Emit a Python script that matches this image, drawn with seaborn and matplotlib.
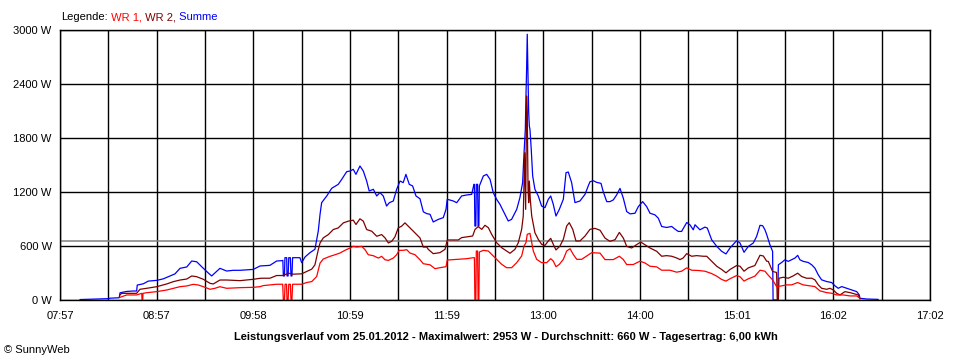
import matplotlib
matplotlib.use("Agg")
import matplotlib.pyplot as plt
import seaborn as sns
import pandas as pd

# ---------------- data (time in minutes since midnight, power in W) ----------------
t_sum = [489.5, 507.3, 508.3, 514.1, 514.6, 518.8, 522.9, 525.0, 525.4, 529.2, 532.3, 537.6,
         541.7, 545.9, 549.0, 552.2, 556.4, 559.5, 562.6, 566.8, 569.9, 572.0, 575.2, 577.2,
         581.4, 585.6, 589.8, 594.0, 598.1, 602.3, 608.5, 612.7, 615.9, 616.6, 616.9, 617.6,
         617.9, 619.0, 619.2, 619.9, 620.3, 621.3, 621.7, 622.3, 622.7, 627.3, 628.4, 630.5,
         633.6, 636.7, 638.8, 639.9, 640.9, 644.1, 647.2, 651.3, 653.5, 656.6, 658.7, 660.7,
         662.4, 664.9, 667.0, 669.1, 670.7, 673.3, 675.4, 677.4, 679.5, 681.6, 683.3, 685.8,
         687.9, 690.0, 692.0, 693.7, 695.8, 697.9, 700.0, 702.5, 704.6, 706.7, 708.8, 710.8,
         714.0, 717.1, 718.8, 719.6, 723.4, 725.5, 728.6, 731.8, 734.9, 736.3, 736.6, 736.9,
         737.5, 737.8, 738.6, 738.9, 739.4, 739.7, 742.2, 744.3, 746.4, 748.4, 750.5, 752.6,
         755.7, 757.8, 759.9, 763.1, 765.1, 766.8, 767.7, 768.5, 768.9, 769.3, 769.7, 770.2,
         770.6, 771.0, 771.4, 772.2, 773.1, 774.5, 776.6, 778.7, 780.8, 782.9, 784.4, 786.0,
         787.7, 789.8, 792.3, 794.0, 795.4, 797.5, 799.6, 802.7, 805.9, 807.9, 809.0, 811.1,
         813.2, 815.9, 817.3, 819.5, 821.5, 823.6, 825.7, 827.8, 829.9, 832.0, 834.1, 837.2,
         839.3, 842.0, 844.5, 846.6, 849.7, 851.8, 853.9, 857.0, 860.2, 862.2, 864.3, 866.4,
         869.6, 871.6, 873.7, 874.8, 877.9, 881.0, 882.5, 885.2, 888.4, 891.5, 894.2, 896.7,
         900.9, 903.0, 905.5, 908.2, 911.3, 913.4, 915.5, 917.2, 918.6, 919.7, 920.7, 921.7,
         923.4, 923.7, 926.6, 927.0, 929.1, 931.1, 933.2, 935.3, 937.4, 939.1, 940.5, 942.6,
         945.7, 947.9, 949.9, 952.0, 954.1, 957.3, 960.4, 962.5, 964.5, 966.7, 969.8, 972.9,
         976.1, 977.7, 978.1, 982.3, 989.6]
summe = [5, 15, 20, 25, 80, 95, 100, 100, 166, 180, 210, 218,
         235, 267, 290, 352, 367, 433, 425, 352, 300, 267, 320, 352,
         322, 330, 330, 335, 340, 378, 385, 433, 437, 440, 267, 267,
         470, 470, 267, 267, 470, 470, 267, 267, 470, 470, 414, 478,
         526, 563, 767, 952, 1081, 1156, 1241, 1285, 1341, 1426, 1433, 1452,
         1396, 1489, 1433, 1322, 1211, 1230, 1156, 1193, 1156, 1044, 1081, 1100,
         1230, 1322, 1304, 1396, 1285, 1267, 1156, 1125, 980, 960, 952, 867,
         896, 915, 1007, 1119, 1100, 1081, 1156, 1167, 1174, 1285, 1285, 822,
         822, 1285, 1285, 822, 822, 1267, 1378, 1396, 1341, 1193, 1119, 1063,
         952, 878, 896, 1007, 1137, 1304, 1637, 1896, 2267, 2563, 2953, 2452,
         2082, 1933, 1896, 1674, 1378, 1230, 1156, 1044, 1026, 1119, 1156, 1063,
         933, 1007, 1119, 1415, 1422, 1304, 1082, 1100, 1174, 1267, 1314, 1325,
         1307, 1296, 1204, 1093, 1093, 1112, 1167, 1240, 1130, 983, 957, 964,
         1038, 1093, 1038, 964, 946, 909, 817, 806, 817, 788, 762, 762,
         861, 836, 780, 836, 780, 810, 799, 670, 596, 541, 512, 578,
         659, 633, 530, 596, 633, 707, 830, 825, 780, 727, 670, 615,
         540, 0, 0, 391, 417, 447, 429, 447, 466, 496, 447, 429,
         417, 391, 354, 280, 224, 205, 194, 157, 130, 149, 130, 112,
         93, 56, 19, 11, 7]

t_wr2 = [514.6, 515.6, 525.0, 527.1, 531.3, 537.6, 543.8, 548.0, 552.2, 556.4, 559.5, 562.6,
         566.8, 571.0, 573.0, 577.2, 581.4, 589.8, 598.1, 602.3, 604.3, 608.5, 612.7, 616.9,
         620.0, 623.1, 628.4, 631.5, 634.7, 636.7, 638.8, 639.9, 641.9, 645.1, 648.2, 651.3,
         654.5, 657.6, 660.7, 662.4, 664.9, 667.0, 669.1, 672.3, 675.4, 678.5, 680.6, 682.7,
         684.8, 686.8, 688.9, 691.0, 693.1, 695.2, 698.3, 702.5, 704.6, 706.7, 707.7, 710.8,
         715.0, 718.2, 719.6, 726.5, 728.6, 735.5, 737.0, 739.0, 741.2, 743.2, 745.3, 747.4,
         750.5, 753.7, 756.8, 758.9, 762.0, 764.1, 766.2, 767.2, 768.1, 768.7, 769.3, 769.7,
         770.2, 770.6, 771.0, 771.6, 772.5, 774.5, 776.6, 778.7, 780.8, 782.9, 784.4, 786.0,
         787.7, 790.2, 792.3, 794.4, 796.0, 798.2, 800.2, 802.7, 805.9, 809.0, 812.1, 815.3,
         818.4, 821.5, 824.7, 827.4, 829.9, 832.0, 835.1, 838.2, 840.8, 843.4, 846.6, 850.8,
         853.9, 857.0, 860.2, 863.3, 865.4, 867.4, 869.6, 872.7, 875.8, 880.0, 882.1, 885.2,
         888.4, 891.5, 894.2, 896.7, 900.9, 903.0, 905.5, 908.2, 912.3, 915.5, 917.6, 919.7,
         920.7, 923.4, 925.9, 926.3, 927.0, 927.4, 930.1, 933.2, 936.3, 939.1, 941.6, 944.7,
         947.9, 949.9, 952.0, 954.1, 957.3, 959.3, 961.4, 963.5, 965.6, 968.7, 971.9, 975.0,
         977.1, 978.1]
wr2 = [56, 74, 74, 119, 130, 148, 178, 204, 222, 233, 267, 259,
       230, 185, 178, 222, 222, 215, 230, 241, 242, 242, 272, 272,
       298, 287, 291, 317, 343, 391, 559, 634, 690, 727, 783, 801,
       857, 876, 887, 839, 902, 876, 783, 764, 708, 727, 690, 634,
       652, 701, 801, 820, 857, 820, 764, 690, 588, 589, 563, 515,
       526, 563, 667, 667, 693, 711, 785, 815, 785, 830, 804, 730,
       637, 581, 544, 519, 563, 637, 785, 933, 1637, 1007, 2267, 2082,
       1230, 1081, 1322, 1119, 933, 748, 674, 619, 607, 656, 685, 619,
       556, 600, 674, 822, 859, 785, 656, 656, 711, 785, 796, 775,
       688, 652, 670, 751, 688, 596, 578, 615, 644, 615, 578, 541,
       486, 493, 486, 467, 449, 467, 515, 486, 493, 486, 486, 431,
       375, 339, 302, 339, 383, 375, 320, 357, 383, 497, 489, 431,
       429, 317, 306, 0, 0, 242, 253, 242, 268, 298, 261, 242,
       242, 224, 168, 130, 119, 130, 112, 75, 56, 93, 82, 67,
       56, 11]

t_wr1 = [514.6, 518.8, 525.0, 528.2, 528.4, 528.8, 529.0, 531.3, 537.6, 543.8, 548.0, 552.2,
         556.4, 560.5, 563.6, 566.8, 571.0, 574.1, 577.2, 581.4, 589.8, 598.1, 602.3, 604.3,
         608.5, 612.7, 616.5, 616.9, 617.6, 618.0, 618.9, 619.2, 619.9, 620.3, 621.3, 621.7,
         622.3, 622.7, 628.4, 631.5, 634.7, 637.8, 639.9, 641.9, 646.1, 649.3, 652.4, 655.5,
         658.7, 660.7, 662.9, 666.0, 668.1, 670.1, 673.3, 676.4, 678.5, 680.6, 682.7, 685.8,
         687.9, 689.5, 692.0, 694.2, 696.2, 699.4, 702.5, 704.6, 708.8, 711.9, 715.0, 718.8,
         719.6, 726.5, 731.8, 735.9, 736.6, 736.9, 737.5, 737.8, 738.6, 738.9, 739.4, 739.7,
         742.2, 745.3, 747.4, 750.5, 753.7, 756.8, 759.9, 763.1, 766.2, 767.7, 768.9, 769.7,
         771.4, 772.5, 773.5, 775.6, 778.7, 781.9, 784.4, 786.0, 787.7, 789.8, 792.3, 794.4,
         796.5, 798.5, 800.7, 803.8, 806.9, 810.1, 815.3, 818.4, 823.6, 827.4, 829.9, 832.0,
         836.1, 840.3, 843.4, 846.6, 850.8, 853.9, 859.1, 863.3, 866.4, 869.6, 872.7, 876.8,
         881.0, 885.2, 888.4, 891.5, 894.2, 896.7, 900.9, 903.0, 905.5, 908.2, 912.3, 915.5,
         918.6, 920.7, 923.4, 925.9, 929.1, 932.2, 935.3, 939.1, 942.6, 946.8, 949.9, 953.1,
         957.3, 960.4, 963.5, 967.7, 971.9, 976.1, 978.1]
wr1 = [30, 56, 56, 74, 0, 0, 74, 81, 93, 111, 130, 148,
       156, 174, 167, 148, 119, 130, 148, 130, 137, 141, 148, 160,
       168, 175, 175, 0, 0, 175, 175, 0, 0, 175, 175, 0,
       0, 175, 175, 194, 205, 261, 410, 455, 485, 503, 522, 552,
       578, 596, 589, 596, 559, 503, 492, 466, 485, 447, 440, 466,
       503, 552, 552, 559, 522, 503, 447, 403, 391, 348, 359, 370,
       444, 452, 459, 470, 470, 0, 0, 544, 544, 0, 0, 533,
       552, 544, 507, 452, 396, 359, 359, 415, 489, 600, 637, 730,
       741, 637, 544, 452, 415, 415, 459, 433, 370, 396, 452, 544,
       570, 507, 452, 452, 489, 526, 521, 449, 449, 486, 449, 394,
       394, 431, 412, 375, 368, 331, 331, 309, 320, 357, 331, 328,
       320, 294, 265, 228, 210, 236, 272, 258, 210, 236, 265, 331,
       320, 275, 224, 149, 157, 168, 168, 194, 168, 157, 149, 101,
       82, 75, 56, 56, 45, 45, 19]

avg_value = 660
y_ticks = [0, 600, 1200, 1800, 2400, 3000]
t_start, t_end = 477, 1022          # 07:57 .. 17:02
x_labels = ["07:57", "08:57", "09:58", "10:59", "11:59", "13:00", "14:00", "15:01", "16:02", "17:02"]
title = ("Leistungsverlauf vom 25.01.2012 - Maximalwert: 2953 W - Durchschnitt: 660 W - "
         "Tagesertrag: 6,00 kWh")

# ---------------- plotting ----------------
sns.set_style("white")
plt.rcParams['font.family'] = ['Liberation Sans', 'DejaVu Sans']

df = pd.concat([
    pd.DataFrame({"Zeit": t_sum, "Leistung": summe, "Serie": "Summe"}),
    pd.DataFrame({"Zeit": t_wr2, "Leistung": wr2, "Serie": "WR 2"}),
    pd.DataFrame({"Zeit": t_wr1, "Leistung": wr1, "Serie": "WR 1"}),
])
palette = {"Summe": "#0000ff", "WR 2": "#800000", "WR 1": "#ff0000"}

fig = plt.figure(figsize=(9.6, 3.6), dpi=100)
ax = fig.add_axes([60 / 960, 60 / 360, 870 / 960, 270 / 360])

sns.lineplot(data=df, x="Zeit", y="Leistung", hue="Serie", hue_order=["Summe", "WR 2", "WR 1"],
             palette=palette, estimator=None, sort=False, legend=False, linewidth=0.9, ax=ax)

ax.axhline(avg_value, color="#808080", lw=1.1, zorder=1.5)

n_grid = 18
x_pos = [t_start + k * (t_end - t_start) / n_grid for k in range(n_grid + 1)]
ax.set_xlim(t_start, t_end)
ax.set_ylim(0, 3000)
ax.set_xticks(x_pos)
ax.set_xticklabels([x_labels[k // 2] if k % 2 == 0 else "" for k in range(n_grid + 1)])
ax.set_yticks(y_ticks)
ax.set_yticklabels([f"{v} W" for v in y_ticks])
ax.set_xlabel("")
ax.set_ylabel("")
ax.set_axisbelow(True)
ax.grid(True, color="black", lw=1.0)
for s in ax.spines.values():
    s.set_color("black")
    s.set_linewidth(1.0)
ax.tick_params(axis="both", direction="out", length=4, width=1.0, color="black",
               labelsize=8, labelcolor="black", pad=2)
ax.tick_params(axis="x", pad=4)

fig.text(506 / 960, 1 - 337 / 360, title, ha="center", va="center", fontsize=8.0,
         fontweight="bold", color="black")
fig.text(4 / 960, 1 - 350 / 360, "\u00a9 SunnyWeb", ha="left", va="center", fontsize=8, color="black")

t0 = fig.text(61 / 960, 1 - 17 / 360, "Legende:", ha="left", va="center", fontsize=8, color="black")
prev = t0
for txt, col in [(" WR 1,", "#ff0000"), (" WR 2,", "#800000"), (" Summe", "#0000ff")]:
    prev = ax.annotate(txt, xy=(1, 0), xycoords=prev, ha="left", va="bottom",
                       fontsize=8, color=col, annotation_clip=False)

fig.savefig("out.png", dpi=100)
